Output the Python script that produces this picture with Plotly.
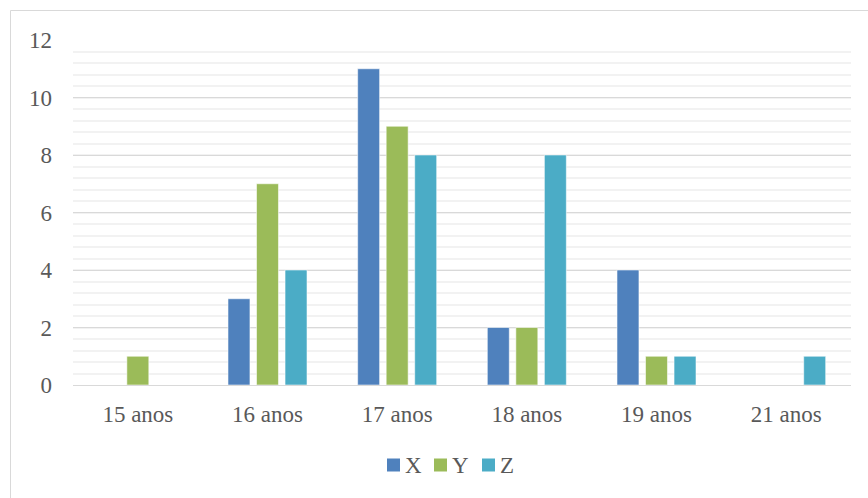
import plotly.graph_objects as go

categories = ["15 anos", "16 anos", "17 anos", "18 anos", "19 anos", "21 anos"]
x_values = [0, 3, 11, 2, 4, 0]
y_values = [1, 7, 9, 2, 1, 0]
z_values = [0, 4, 8, 8, 1, 1]
series_names = ["X", "Y", "Z"]
series_colors = ["#4F81BD", "#9BBB59", "#4BACC6"]
y_ticks = [0, 2, 4, 6, 8, 10, 12]

W, H = 868, 498
L, R, T, B = 73, 17, 40, 113
pw, ph = W - L - R, H - T - B


def px(xp):
    return (xp - L) / pw


def py(yp):
    return (H - B - yp) / ph


fig = go.Figure()
for name, vals, col in zip(series_names, [x_values, y_values, z_values], series_colors):
    fig.add_trace(go.Bar(
        x=categories, y=vals, name=name,
        marker=dict(color=col, line=dict(color="rgba(255,255,255,0.55)", width=1)),
    ))

fam = "Liberation Serif, Times New Roman, serif"
font = dict(family=fam, size=23, color="#595959")

# manual legend (square + text) placed under the plot
legend_sq_x = [387, 434, 482]
shapes = [dict(type="rect", xref="paper", yref="paper",
               x0=px(10.5), x1=px(W + 20), y0=py(H + 20), y1=py(10.5),
               line=dict(color="#D9D9D9", width=1), fillcolor="rgba(0,0,0,0)",
               layer="below")]
annotations = []
for sx, name, col in zip(legend_sq_x, series_names, series_colors):
    shapes.append(dict(type="rect", xref="paper", yref="paper",
                       x0=px(sx), x1=px(sx + 13), y0=py(471.5), y1=py(458.5),
                       line=dict(width=0), fillcolor=col))
    annotations.append(dict(text=name, xref="paper", yref="paper",
                            x=px(sx + 16), y=py(465), xanchor="left", yanchor="middle",
                            showarrow=False, font=font))

fig.update_layout(
    width=W, height=H,
    margin=dict(l=L, r=R, t=T, b=B),
    paper_bgcolor="white", plot_bgcolor="white",
    font=font,
    barmode="group", bargap=0.34, bargroupgap=0.23,
    showlegend=False,
    xaxis=dict(showgrid=False, showline=True, linecolor="#D9D9D9", linewidth=1,
               ticks="", ticklabelstandoff=8, tickfont=font),
    yaxis=dict(range=[0, 12], tickvals=y_ticks, showgrid=True, gridcolor="#D9D9D9",
               gridwidth=1, zeroline=False, showline=False, ticks="",
               ticklabelstandoff=20, tickfont=font,
               minor=dict(dtick=0.4, showgrid=True, gridcolor="#F2F2F2", gridwidth=1.5)),
    shapes=shapes,
    annotations=annotations,
)

fig.write_html("out.html")
